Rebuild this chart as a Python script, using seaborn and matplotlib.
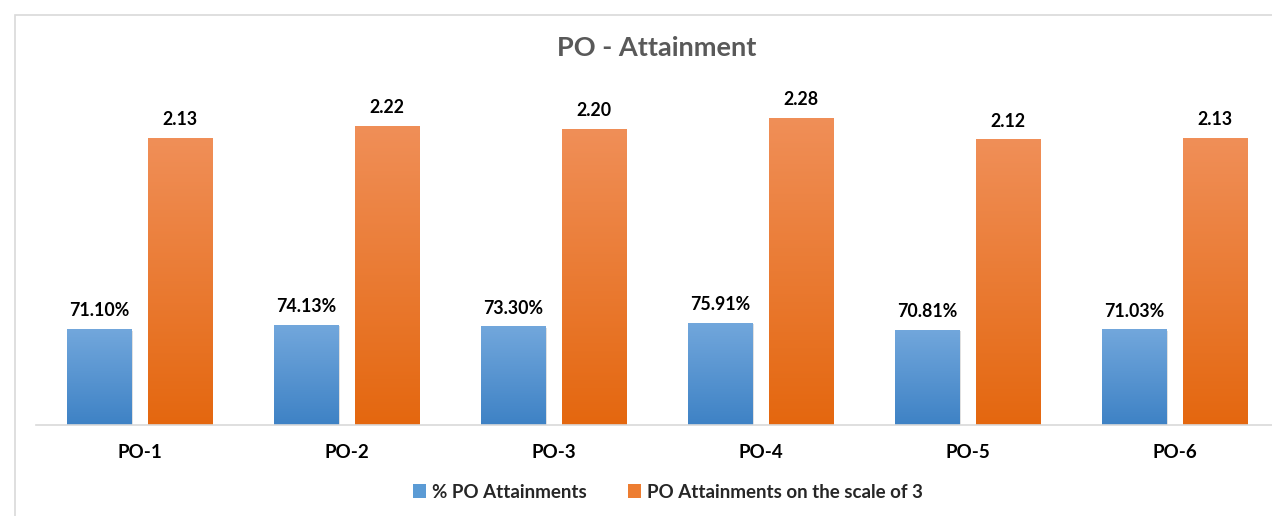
import numpy as np
import pandas as pd
import seaborn as sns
import matplotlib.pyplot as plt
from matplotlib.patches import Rectangle, Patch
from matplotlib.colors import LinearSegmentedColormap

# --- data ---
po_labels = ["PO-1", "PO-2", "PO-3", "PO-4", "PO-5", "PO-6"]
pct_attain = [0.7110, 0.7413, 0.7330, 0.7591, 0.7081, 0.7103]
scale_attain = [2.13, 2.22, 2.20, 2.28, 2.12, 2.13]
series_names = ["% PO Attainments", "PO Attainments on the scale of 3"]

df = pd.DataFrame({
    "po": po_labels * 2,
    "value": pct_attain + scale_attain,
    "series": [series_names[0]] * 6 + [series_names[1]] * 6,
})

# --- style ---
sns.set_style("white")
plt.rcParams["font.family"] = ["Lato", "DejaVu Sans"]

blue_top, blue_bot = "#72a7dc", "#3e82c5"
orange_top, orange_bot = "#f08f58", "#e4670f"
palette = {series_names[0]: "#5b9bd5", series_names[1]: "#ed7d31"}

fig = plt.figure(figsize=(12.72, 5.16), dpi=100)
ax = fig.add_axes([36 / 1272, 91 / 516, 1242 / 1272, 355 / 516])

sns.barplot(data=df, x="po", y="value", hue="series", palette=palette,
            width=0.78, gap=0.2, ax=ax, legend=False, saturation=1)

ymax = 2.635

# gradient fill on each bar
grads = [(blue_top, blue_bot), (orange_top, orange_bot)]
grad = np.linspace(0, 1, 256).reshape(-1, 1)
for cont, (ctop, cbot) in zip(ax.containers, grads):
    cmap = LinearSegmentedColormap.from_list("g", [ctop, cbot])
    for bar in cont:
        x0 = bar.get_x()
        w = bar.get_width()
        h = bar.get_height()
        # soft shadow
        ax.add_patch(Rectangle((x0 + 0.006, 0), w, h - 0.01, facecolor="#000000",
                               alpha=0.12, edgecolor="none", zorder=1.5))
        im = ax.imshow(grad, cmap=cmap, extent=[x0, x0 + w, 0, h],
                       aspect="auto", zorder=2.5, origin="upper")
        im.set_clip_path(bar)
ax.set_ylim(0, ymax)
ax.set_xlim(-0.5, len(po_labels) - 0.5)

# value labels
ax.bar_label(ax.containers[0], labels=[f"{v*100:.2f}%" for v in pct_attain],
             padding=7, fontsize=12.8, fontweight="bold", color="#000000")
ax.bar_label(ax.containers[1], labels=[f"{v:.2f}" for v in scale_attain],
             padding=7, fontsize=12.8, fontweight="bold", color="#000000")

# axes cosmetics
for s in ["top", "left", "right"]:
    ax.spines[s].set_visible(False)
ax.spines["bottom"].set_color("#d9d9d9")
ax.spines["bottom"].set_linewidth(1.2)
ax.set_yticks([])
ax.set_xlabel("")
ax.set_ylabel("")
ax.tick_params(axis="x", length=0, pad=14)
for t in ax.get_xticklabels():
    t.set_fontweight("bold")
    t.set_fontsize(13.5)
    t.set_color("#000000")

fig.text(657 / 1272, 1 - 48 / 516, "PO - Attainment", ha="center", va="center",
         fontsize=19.5, fontweight="bold", color="#595959")

# legend
handles = [Patch(facecolor="#5b9bd5", edgecolor="none"),
           Patch(facecolor="#ed7d31", edgecolor="none")]
fig.legend(handles, series_names, loc="center", ncol=2, frameon=False,
           bbox_to_anchor=(668 / 1272, 1 - 492 / 516),
           handlelength=0.7, handleheight=0.7, handletextpad=0.3,
           columnspacing=2.2, prop={"weight": "bold", "size": 13.5})

# chart frame
fig.patches.append(Rectangle((15 / 1272, -0.1), 1.2, 1 - 15 / 516 + 0.1,
                             transform=fig.transFigure, facecolor="none",
                             edgecolor="#d9d9d9", linewidth=1.2, zorder=0))

fig.savefig("out.png", dpi=100)
